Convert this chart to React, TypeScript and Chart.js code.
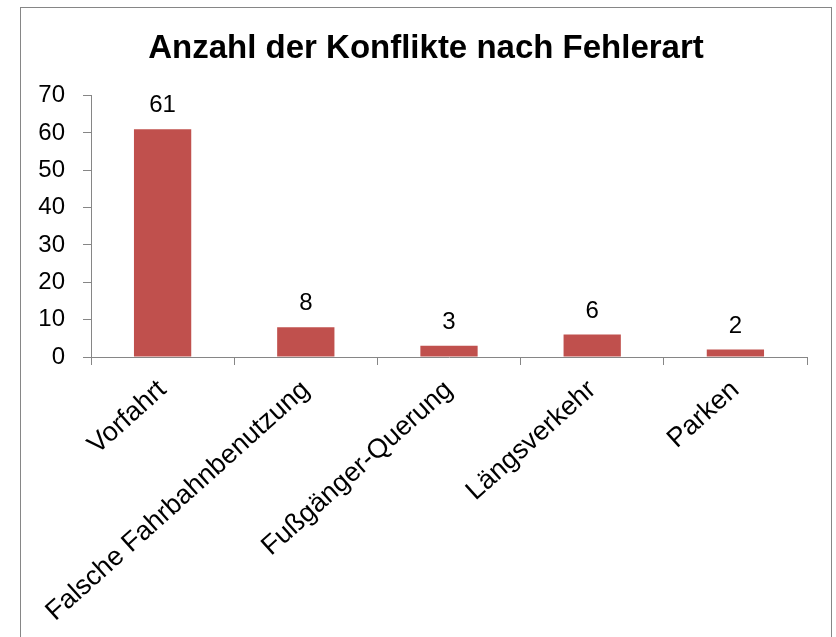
import React, { useEffect, useRef } from "react";
import { Chart, registerables } from "chart.js";

Chart.register(...registerables);

const categories = ["Vorfahrt", "Falsche Fahrbahnbenutzung", "Fußgänger-Querung", "Längsverkehr", "Parken"];
const values = [61, 8, 3, 6, 2];
const chartTitle = "Anzahl der Konflikte nach Fehlerart";
const yMin = 0;
const yMax = 70;
const yStep = 10;

const FONT = "'Liberation Sans', Arial, sans-serif";

const frameBorder = {
  id: "frameBorder",
  beforeDraw(chart: any) {
    const ctx = chart.ctx;
    ctx.save();
    ctx.strokeStyle = "#868686";
    ctx.lineWidth = 1;
    ctx.strokeRect(20.5, 7.5, 811, 700);
    ctx.restore();
  },
};

const valueLabels = {
  id: "valueLabels",
  afterDatasetsDraw(chart: any) {
    const ctx = chart.ctx;
    ctx.save();
    ctx.font = `24px ${FONT}`;
    ctx.fillStyle = "#000";
    ctx.textAlign = "center";
    ctx.textBaseline = "alphabetic";
    const meta = chart.getDatasetMeta(0);
    meta.data.forEach((el: any, i: number) => {
      ctx.fillText(String(chart.data.datasets[0].data[i]), el.x, el.y - 17);
    });
    ctx.restore();
  },
};

export default function App() {
  const ref = useRef<HTMLCanvasElement | null>(null);
  useEffect(() => {
    if (!ref.current) return;
    const chart = new Chart(ref.current, {
      type: "bar",
      data: {
        labels: categories,
        datasets: [
          {
            data: values,
            backgroundColor: "#C0504D",
            borderWidth: 0,
            barPercentage: 0.4,
            categoryPercentage: 1,
          },
        ],
      },
      options: {
        responsive: false,
        animation: false,
        layout: { padding: { left: 20, right: 4, top: 0, bottom: 0 } },
        plugins: {
          legend: { display: false },
          tooltip: { enabled: false },
          title: {
            display: true,
            text: chartTitle,
            color: "#000",
            font: { family: FONT, size: 33, weight: "bold", lineHeight: 1.2 },
            padding: { top: 29, bottom: 27 },
          },
        },
        scales: {
          x: {
            grid: { drawOnChartArea: false, drawTicks: true, tickLength: 8, color: "#868686", offset: true },
            border: { color: "#868686", width: 1 },
            ticks: {
              color: "#000",
              font: { family: FONT, size: 27 },
              maxRotation: 42,
              minRotation: 42,
              autoSkip: false,
              padding: 9,
            },
            afterFit(scale: any) {
              scale.height = 280;
            },
          },
          y: {
            min: yMin,
            max: yMax,
            grid: { drawOnChartArea: false, drawTicks: true, tickLength: 8, color: "#868686" },
            border: { color: "#868686", width: 1 },
            ticks: {
              stepSize: yStep,
              color: "#000",
              font: { family: FONT, size: 24 },
              padding: 18,
            },
            afterFit(scale: any) {
              scale.width = 71;
            },
          },
          rightSpace: {
            type: "linear",
            position: "right",
            display: true,
            grid: { display: false, drawTicks: false },
            border: { display: false },
            ticks: { display: false },
            afterFit(scale: any) {
              scale.width = 25;
            },
          },
        },
      },
      plugins: [frameBorder, valueLabels],
    });
    return () => chart.destroy();
  }, []);
  return (
    <div style={{ position: "absolute", left: 0, top: 0, width: 836, height: 637, background: "#fff" }}>
      <canvas ref={ref} width={836} height={637} style={{ display: "block" }} />
    </div>
  );
}
